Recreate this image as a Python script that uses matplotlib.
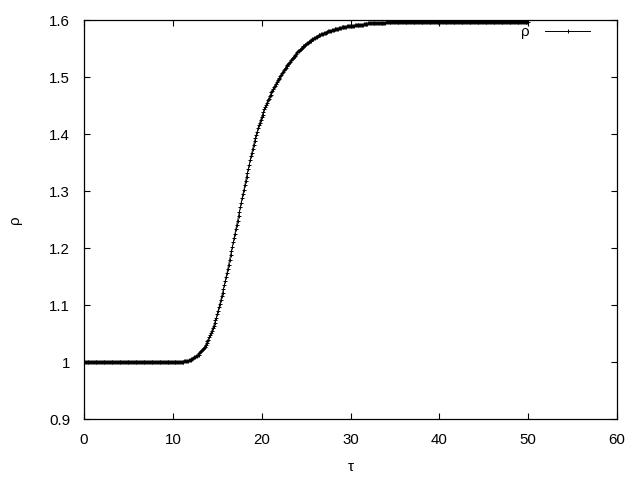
import numpy as np
import matplotlib
matplotlib.use("agg")
import matplotlib.pyplot as plt
from matplotlib.ticker import FuncFormatter

tau_step = 0.1
rho_flat_low = [1.0] * 110                      # tau 0.0 .. 10.9
rho_rise = [
    1.000, 1.000, 1.000, 1.001, 1.001, 1.001, 1.002, 1.002, 1.003, 1.003,   # 11
    1.004, 1.005, 1.006, 1.007, 1.008, 1.009, 1.010, 1.011, 1.012, 1.013,   # 12
    1.015, 1.017, 1.019, 1.021, 1.023, 1.025, 1.027, 1.030, 1.033, 1.036,   # 13
    1.039, 1.043, 1.047, 1.051, 1.055, 1.059, 1.063, 1.068, 1.073, 1.078,   # 14
    1.084, 1.090, 1.096, 1.102, 1.108, 1.115, 1.121, 1.128, 1.135, 1.142,   # 15
    1.149, 1.156, 1.164, 1.171, 1.179, 1.187, 1.194, 1.202, 1.210, 1.217,   # 16
    1.225, 1.233, 1.241, 1.248, 1.256, 1.264, 1.272, 1.279, 1.287, 1.295,   # 17
    1.302, 1.310, 1.317, 1.325, 1.332, 1.339, 1.346, 1.354, 1.361, 1.367,   # 18
    1.374, 1.381, 1.387, 1.393, 1.399, 1.404, 1.410, 1.415, 1.420, 1.425,   # 19
    1.429, 1.434, 1.438, 1.443, 1.447, 1.451, 1.455, 1.459, 1.462, 1.466,   # 20
    1.469, 1.473, 1.476, 1.479, 1.482, 1.485, 1.488, 1.491, 1.494, 1.496,   # 21
    1.499, 1.502, 1.504, 1.507, 1.509, 1.512, 1.514, 1.516, 1.519, 1.521,   # 22
    1.523, 1.525, 1.527, 1.529, 1.531, 1.533, 1.535, 1.537, 1.539, 1.541,   # 23
    1.543, 1.545, 1.546, 1.548, 1.549, 1.551, 1.552, 1.554, 1.555, 1.557,   # 24
    1.558, 1.559, 1.560, 1.561, 1.563, 1.564, 1.565, 1.566, 1.567, 1.568,   # 25
    1.569, 1.570, 1.571, 1.572, 1.573, 1.573, 1.574, 1.575, 1.576, 1.576,   # 26
    1.577, 1.578, 1.578, 1.579, 1.579, 1.580, 1.580, 1.581, 1.581, 1.582,   # 27
    1.583, 1.583, 1.584, 1.584, 1.585, 1.585, 1.585, 1.586, 1.586, 1.586,   # 28
    1.587, 1.587, 1.587, 1.588, 1.588, 1.588, 1.589, 1.589, 1.589, 1.589,   # 29
    1.590, 1.590, 1.590, 1.590, 1.590, 1.591, 1.591, 1.591, 1.591, 1.591,   # 30
    1.592, 1.592, 1.592, 1.592, 1.592, 1.593, 1.593, 1.593, 1.593, 1.593,   # 31
    1.594, 1.594, 1.594, 1.594, 1.594, 1.594, 1.594, 1.594, 1.594, 1.594,   # 32
    1.595, 1.595, 1.595, 1.595, 1.595, 1.595, 1.595, 1.595, 1.595, 1.595,   # 33
    1.596, 1.596, 1.596, 1.596, 1.596, 1.596, 1.596, 1.596, 1.596, 1.596,   # 34
]
rho_flat_high = [1.597] * 151                   # tau 35.0 .. 50.0

rho = np.array(rho_flat_low + rho_rise + rho_flat_high)
tau = np.arange(len(rho)) * tau_step

xticks = [0, 10, 20, 30, 40, 50, 60]
yticks = [0.9, 1.0, 1.1, 1.2, 1.3, 1.4, 1.5, 1.6]

plt.rcParams["font.family"] = "Liberation Sans"
plt.rcParams["font.size"] = 10.8

fig = plt.figure(figsize=(6.4, 4.8), dpi=100)
ax = fig.add_axes([84 / 640, 1 - 419 / 480, 533 / 640, 399 / 480])

ax.plot(tau, rho, color="black", lw=0.7, marker="+", ms=3.5, mew=0.7, label="ρ")

ax.set_xlim(0, 60)
ax.set_ylim(0.9, 1.6)
ax.set_xticks(xticks)
ax.set_yticks(yticks)
fmt = FuncFormatter(lambda v, p: "%g" % round(v, 3))
ax.xaxis.set_major_formatter(fmt)
ax.yaxis.set_major_formatter(fmt)
ax.tick_params(direction="in", length=4.5, width=0.8, top=True, right=True)
ax.tick_params(axis="both", pad=10)
for s in ax.spines.values():
    s.set_linewidth(0.9)

ax.set_xlabel("τ")
ax.xaxis.set_label_coords(0.5, -0.103)
ax.set_ylabel("ρ")
ax.yaxis.set_label_coords(-0.116, 0.5)

ax.legend(loc="upper right", bbox_to_anchor=(590 / 640, 1 - 25 / 480),
          bbox_transform=fig.transFigure, frameon=False, markerfirst=False,
          numpoints=1, handlelength=3.0, handletextpad=1.0,
          borderpad=0, borderaxespad=0)

plt.savefig("out.png", dpi=100)
plt.close()
